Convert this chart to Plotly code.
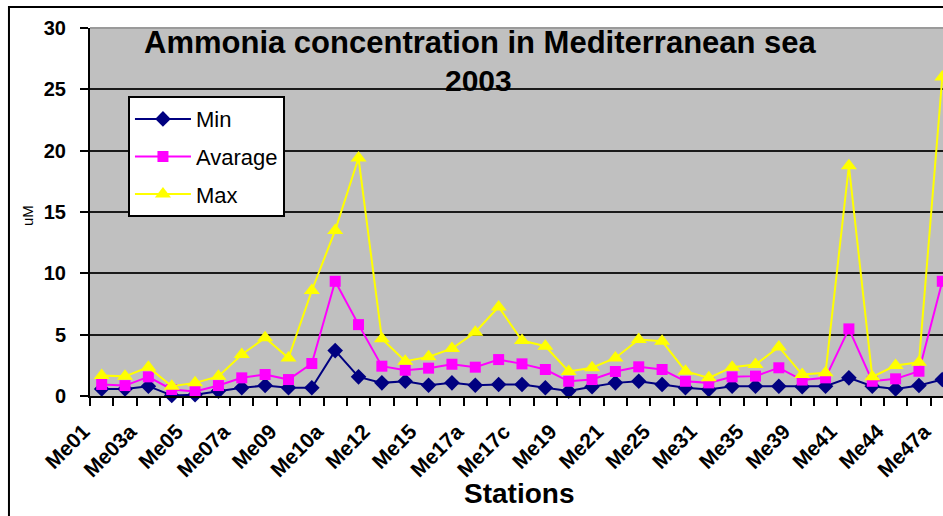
import plotly.graph_objects as go

# ---- data ----
station_labels = ["Me01", "Me03a", "Me05", "Me07a", "Me09", "Me10a", "Me12", "Me15",
                  "Me17a", "Me17c", "Me19", "Me21", "Me25", "Me31", "Me35", "Me39",
                  "Me41", "Me44", "Me47a"]
n_stations = 37
min_vals = [0.58, 0.58, 0.8, 0.05, 0.1, 0.4, 0.67, 0.85, 0.67, 0.67, 3.7, 1.56, 1.07,
            1.2, 0.88, 1.07, 0.88, 0.94, 0.94, 0.67, 0.4, 0.75, 1.07, 1.2, 0.94, 0.67,
            0.53, 0.8, 0.8, 0.8, 0.75, 0.8, 1.48, 0.8, 0.58, 0.85, 1.34]
avg_vals = [0.94, 0.85, 1.56, 0.53, 0.37, 0.85, 1.48, 1.75, 1.34, 2.65, 9.35, 5.82, 2.43,
            2.1, 2.27, 2.59, 2.35, 2.97, 2.62, 2.16, 1.2, 1.34, 2.0, 2.38, 2.16, 1.2,
            1.07, 1.56, 1.62, 2.3, 1.3, 1.48, 5.47, 1.2, 1.4, 2.02, 9.35]
max_vals = [1.67, 1.6, 2.35, 0.8, 1.07, 1.6, 3.38, 4.74, 3.1, 8.6, 13.5, 19.4, 4.66,
            2.83, 3.19, 3.87, 5.2, 7.26, 4.52, 4.06, 2.0, 2.3, 3.1, 4.6, 4.46, 2.02,
            1.48, 2.35, 2.56, 4.0, 1.75, 1.89, 18.77, 1.56, 2.48, 2.75, 26.0]
y_ticks = [0, 5, 10, 15, 20, 25, 30]

x_idx = list(range(n_stations))
label_pos = list(range(0, n_stations, 2))

FONT = "Arial, Liberation Sans, sans-serif"

fig = go.Figure()
series = [
    ("Min", min_vals, "#000080", "diamond", 12),
    ("Avarage", avg_vals, "#FF00FF", "square", 11),
    ("Max", max_vals, "#FFFF00", "triangle-up", 14),
]
for i, (name, vals, col, sym, sz) in enumerate(series):
    fig.add_trace(go.Scatter(
        x=x_idx, y=vals, name=name, mode="lines+markers",
        line=dict(color=col, width=2),
        marker=dict(color=col, symbol=sym, size=sz, line=dict(width=0)),
        cliponaxis=False, legendgroup=name,
    ))

fig.update_layout(
    width=943, height=516,
    margin=dict(l=90, r=0, t=28, b=120, autoexpand=False),
    paper_bgcolor="white", plot_bgcolor="#C0C0C0",
    font=dict(family=FONT, color="black"),
    showlegend=True,
    legend=dict(x=0.0445, y=0.815, xanchor="left", yanchor="top",
                bgcolor="white", bordercolor="black", borderwidth=2,
                font=dict(size=22, family=FONT), tracegroupgap=6,
                itemwidth=56),
    xaxis=dict(
        range=[-0.5, 36.03], tickmode="array", tickvals=label_pos, ticktext=station_labels,
        tickangle=-45, ticks="", showgrid=False, zeroline=False, automargin=False,
        showline=True, linecolor="black", linewidth=2,
        tickfont=dict(size=21, family=FONT, weight="bold"),
        ticklabelstandoff=13, ticklabelshift=-18,
        minor=dict(tick0=-0.5, dtick=1, ticks="outside", ticklen=8, tickwidth=2,
                   tickcolor="black", showgrid=False),
    ),
    yaxis=dict(
        range=[0, 30], tickmode="array", tickvals=y_ticks, automargin=False,
        ticks="outside", ticklen=8, tickwidth=2, tickcolor="black",
        showgrid=True, gridcolor="#1a1a1a", gridwidth=2, zeroline=False,
        showline=True, linecolor="black", linewidth=2,
        tickfont=dict(size=20, family=FONT, weight="bold"),
        ticklabelstandoff=10,
    ),
    shapes=[
        dict(type="line", xref="paper", yref="paper", x0=0, x1=1, y0=1, y1=1,
             line=dict(color="#9a9a9a", width=2), layer="above"),
        dict(type="rect", xref="paper", yref="paper", x0=-0.095, x1=1.2, y0=-0.5, y1=1.057,
             line=dict(color="black", width=2), fillcolor="rgba(0,0,0,0)", layer="below"),
    ],
    annotations=[
        dict(text="<b>Ammonia concentration in Mediterranean sea</b>", x=0.458, y=0.961,
             xref="paper", yref="paper", xanchor="center", yanchor="middle",
             showarrow=False, font=dict(size=31, family=FONT)),
        dict(text="<b>2003</b>", x=0.456, y=0.858, xref="paper", yref="paper",
             xanchor="center", yanchor="middle", showarrow=False,
             font=dict(size=30, family=FONT)),
        dict(text="uM", x=(27 - 90) / 853, y=(396 - 216) / 368, xref="paper", yref="paper",
             xanchor="center", yanchor="middle", textangle=-90, showarrow=False,
             font=dict(size=15, family=FONT)),
        dict(text="<b>Stations</b>", x=(519 - 90) / 853, y=(396 - 493) / 368,
             xref="paper", yref="paper", xanchor="center", yanchor="middle",
             showarrow=False, font=dict(size=28, family=FONT)),
    ],
)

fig.write_html("out.html", post_script="document.body.style.margin='0';",
               config={"displayModeBar": False})
